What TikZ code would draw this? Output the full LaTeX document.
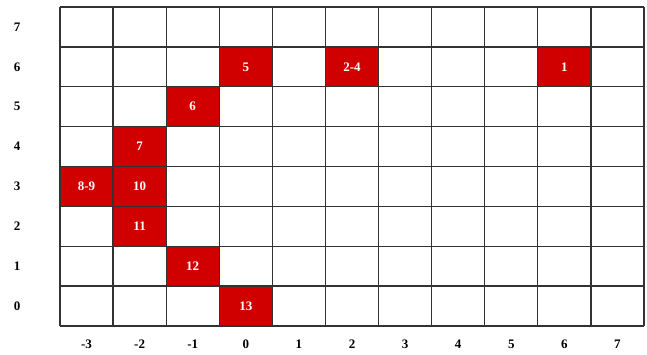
\documentclass[tikz,border=0pt]{standalone}
\usepackage{fontspec}
\setmainfont{Liberation Serif}
\definecolor{cellred}{RGB}{208,0,0}
\definecolor{gridc}{RGB}{50,50,50}
\begin{document}
\begin{tikzpicture}[x=1pt,y=-1pt,
  cell/.style={fill=cellred, minimum width=53.09pt, minimum height=39.875pt, inner sep=0pt, text=white, font=\fontsize{13}{13}\selectfont\bfseries},
  axlab/.style={font=\fontsize{13}{13}\selectfont\bfseries, inner sep=0pt},
  gridline/.style={gridc, line width=1.3pt}]
\useasboundingbox (0,0) rectangle (647,354);
% red cells: (column, row, name, text)
\foreach \c/\r/\n/\t in {0/6/a/5, 2/6/b/2-4, 6/6/c/1, -1/5/d/6, -2/4/e/7, -3/3/f/8-9, -2/3/g/10, -2/2/h/11, -1/1/i/12, 0/0/j/13}{
  \node[cell] (cell-\n) at ({60+(\c+3.5)*53.09},{7+(7.5-\r)*39.875}) {\t};
}
% grid
\foreach \i in {0,...,11}{
  \draw[gridline] ({60+\i*53.09},7) -- ({60+\i*53.09},326);
}
\foreach \j in {0,...,8}{
  \draw[gridline] (60,{7+\j*39.875}) -- (644,{7+\j*39.875});
}
% row labels
\foreach \r in {0,...,7}{
  \node[axlab] (row-\r) at (17,{7+(7.5-\r)*39.875}) {\r};
}
% column labels
\foreach \c [count=\k] in {-3,...,7}{
  \node[axlab] (col-\k) at ({60+(\c+3.5)*53.09},344) {\c};
}
\end{tikzpicture}
\end{document}
